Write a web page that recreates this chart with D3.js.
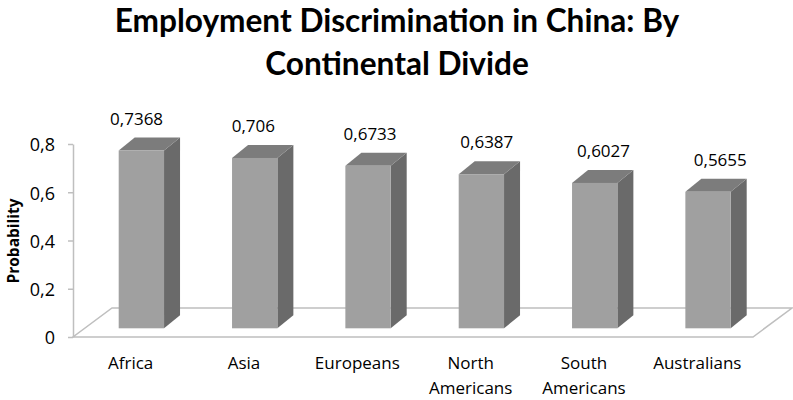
<!DOCTYPE html>
<html>
<head>
<meta charset="utf-8">
<script src="https://cdn.jsdelivr.net/npm/d3@7"></script>
<style>
  html, body { margin: 0; padding: 0; background: #ffffff; }
  svg { display: block; }
  text { fill: #000; }
</style>
</head>
<body>
<svg id="chart" width="793" height="400"></svg>
<script>
// Chart data
const categories = ["Africa", "Asia", "Europeans", "North Americans", "South Americans", "Australians"];
const values = [0.7368, 0.706, 0.6733, 0.6387, 0.6027, 0.5655];
const tickValues = [0, 0.2, 0.4, 0.6, 0.8];
const titleLines = ["Employment Discrimination in China: By", "Continental Divide"];
const yAxisTitle = "Probability";

// Comma decimal separator, as in the source spreadsheet
const fmt = v => String(v).replace(".", ",");

const svg = d3.select("#chart");

// Front plane of the 3-D floor and its depth offset
const floorLeft = 73, floorRight = 753, floorY = 337;
const depthX = 39, depthY = -29;

const y = d3.scaleLinear().domain([0, 0.8]).range([floorY, 144]);
const x = d3.scaleBand().domain(categories).range([floorLeft, floorRight]);

// Bars sit part way into the floor depth
const inset = 0.3;
const barShiftX = depthX * inset, barShiftY = depthY * inset;
const barW = x.bandwidth() * 0.4;
const barDX = 16, barDY = -13;

const fontSmall = "'Open Sans', sans-serif";

// Floor
svg.append("path")
  .attr("d", `M${floorLeft},${floorY} L${floorRight},${floorY} L${floorRight + depthX},${floorY + depthY} L${floorLeft + depthX},${floorY + depthY} Z`)
  .attr("fill", "#ffffff")
  .attr("stroke", "#bfbfbf")
  .attr("stroke-width", 1.5);

// Vertical axis
const axisG = svg.append("g").attr("transform", `translate(${floorLeft},0)`);
const yAxis = d3.axisLeft(y).tickValues(tickValues).tickSize(5).tickSizeOuter(0).tickFormat(fmt);
axisG.call(yAxis);
axisG.select(".domain").attr("stroke", "#bfbfbf").attr("stroke-width", 1.5);
axisG.selectAll(".tick line").attr("stroke", "#bfbfbf").attr("stroke-width", 1.5);
axisG.selectAll(".tick text")
  .attr("x", -18)
  .attr("dy", "0.38em")
  .style("font-family", fontSmall)
  .style("font-size", "18px")
  .attr("fill", "#000");

svg.append("text")
  .attr("transform", `translate(19,241) rotate(-90)`)
  .attr("text-anchor", "middle")
  .style("font-family", fontSmall)
  .style("font-weight", "bold")
  .style("font-size", "15.5px")
  .text(yAxisTitle);

// Bars: front, top and side faces
const bars = svg.append("g").selectAll("g")
  .data(categories.map((c, i) => ({ c, v: values[i] })))
  .join("g");

const base = floorY + barShiftY;
const hOf = v => floorY - y(v);

bars.each(function (d) {
  const g = d3.select(this);
  const x0 = x(d.c) + (x.bandwidth() - barW) / 2 + barShiftX;
  const x1 = x0 + barW;
  const top = base - hOf(d.v);
  // side
  g.append("path")
    .attr("d", `M${x1},${base} L${x1 + barDX},${base + barDY} L${x1 + barDX},${top + barDY} L${x1},${top} Z`)
    .attr("fill", "#6a6a6a");
  // top
  g.append("path")
    .attr("d", `M${x0},${top} L${x1},${top} L${x1 + barDX},${top + barDY} L${x0 + barDX},${top + barDY} Z`)
    .attr("fill", "#7c7c7c");
  // front
  g.append("rect")
    .attr("x", x0).attr("y", top)
    .attr("width", barW).attr("height", base - top)
    .attr("fill", "#a0a0a0");
  // value label (slight perspective spread)
  const cx = x0 + barW / 2;
  g.append("text")
    .attr("x", cx + (cx - 300) * 0.03)
    .attr("y", top + barDY - 13)
    .attr("text-anchor", "middle")
    .style("font-family", fontSmall)
    .style("font-size", "17px")
    .text(fmt(d.v));
});

// Category labels
const catG = svg.append("g");
categories.forEach(c => {
  const words = c.split(" ");
  const t = catG.append("text")
    .attr("text-anchor", "middle")
    .style("font-family", fontSmall)
    .style("font-size", "17px");
  words.forEach((w, k) => {
    t.append("tspan")
      .attr("x", x(c) + x.bandwidth() / 2 + 1)
      .attr("y", 369 + k * 25)
      .text(w);
  });
});

// Title
const title = svg.append("text")
  .attr("text-anchor", "middle")
  .style("font-family", "Lato, 'Open Sans', sans-serif")
  .style("font-weight", "bold")
  .style("font-size", "31.6px");
titleLines.forEach((l, k) => {
  title.append("tspan")
    .attr("x", 397)
    .attr("y", 32 + k * 43)
    .text(l);
});
</script>
</body>
</html>
